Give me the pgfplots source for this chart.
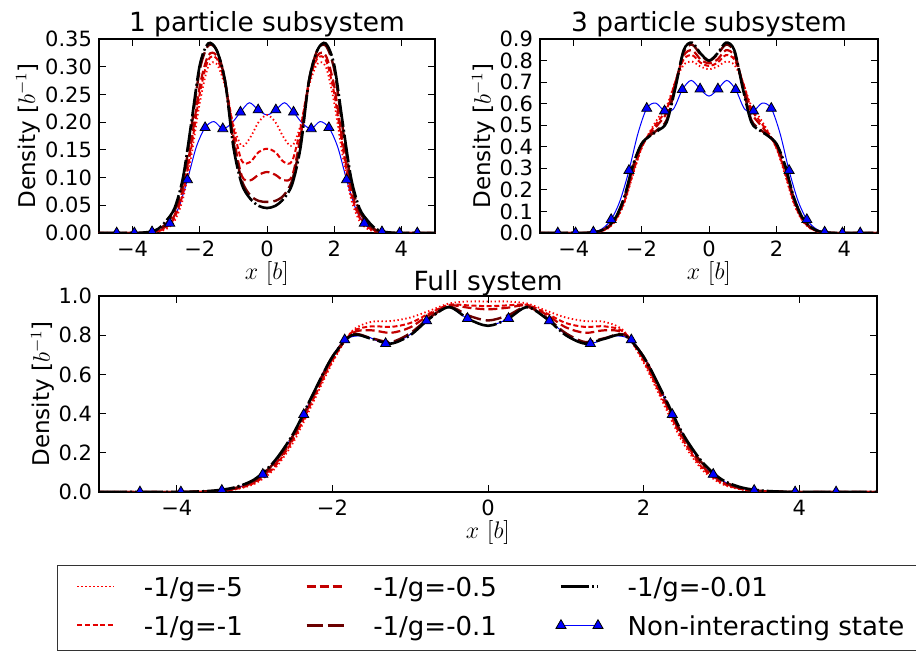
\documentclass[border=0pt]{standalone}
\usepackage{fontspec}
\setmainfont{DejaVu Sans}
\usepackage{pgfplots}
\usepackage{pgfplotstable}
\pgfplotsset{compat=1.18}
\definecolor{c5}{rgb}{1,0,0}
\definecolor{c1}{rgb}{0.9,0,0}
\definecolor{c05}{rgb}{0.76,0,0}
\definecolor{c01}{rgb}{0.42,0,0}

% columns: a=-5, b=-1, c=-0.5, d=-0.1, e=-0.01
\pgfplotstableread{
x a b c d e
-5.00 0 0 0 0 0
-4.75 0 0 0 0 0
-4.50 0 0 0 0 0
-4.25 0 0 0 0 0
-4.00 0 0 0 0 0
-3.75 0 0 0 0 0.0005
-3.50 0 0 0.001 0.001 0.002
-3.25 0.002 0.003 0.004 0.005 0.007
-3.00 0.007 0.010 0.012 0.017 0.022
-2.75 0.022 0.028 0.032 0.040 0.045
-2.50 0.062 0.072 0.080 0.092 0.100
-2.25 0.140 0.155 0.165 0.190 0.200
-2.00 0.235 0.252 0.265 0.295 0.303
-1.75 0.300 0.312 0.320 0.338 0.342
-1.50 0.305 0.315 0.320 0.330 0.330
-1.25 0.265 0.272 0.272 0.275 0.275
-1.00 0.195 0.190 0.175 0.165 0.155
-0.75 0.157 0.130 0.103 0.095 0.088
-0.50 0.172 0.128 0.095 0.068 0.062
-0.25 0.200 0.146 0.105 0.058 0.049
0.00 0.213 0.152 0.110 0.056 0.045
0.25 0.200 0.146 0.105 0.058 0.049
0.50 0.172 0.128 0.095 0.068 0.062
0.75 0.157 0.130 0.103 0.095 0.088
1.00 0.195 0.190 0.175 0.165 0.155
1.25 0.265 0.272 0.272 0.275 0.275
1.50 0.305 0.315 0.320 0.330 0.330
1.75 0.300 0.312 0.320 0.338 0.342
2.00 0.235 0.252 0.265 0.295 0.303
2.25 0.140 0.155 0.165 0.190 0.200
2.50 0.062 0.072 0.080 0.092 0.100
2.75 0.022 0.028 0.032 0.040 0.045
3.00 0.007 0.010 0.012 0.017 0.022
3.25 0.002 0.003 0.004 0.005 0.007
3.50 0 0 0.001 0.001 0.002
3.75 0 0 0 0 0.0005
4.00 0 0 0 0 0
4.25 0 0 0 0 0
4.50 0 0 0 0 0
4.75 0 0 0 0 0
5.00 0 0 0 0 0
}\Pone

\pgfplotstableread{
x a b c d e
-5.00 0 0 0 0 0
-4.75 0 0 0 0 0
-4.50 0 0 0 0 0
-4.25 0 0 0 0 0
-4.00 0 0 0 0 0
-3.75 0 0 0 0 0
-3.50 0.001 0.001 0.001 0.002 0.002
-3.25 0.006 0.006 0.007 0.008 0.008
-3.00 0.020 0.022 0.024 0.027 0.028
-2.75 0.060 0.064 0.067 0.072 0.075
-2.50 0.140 0.148 0.155 0.165 0.170
-2.25 0.270 0.280 0.290 0.308 0.315
-2.00 0.390 0.395 0.400 0.410 0.413
-1.75 0.470 0.465 0.460 0.452 0.450
-1.50 0.535 0.520 0.505 0.482 0.476
-1.25 0.590 0.575 0.560 0.525 0.515
-1.00 0.700 0.700 0.695 0.680 0.670
-0.75 0.780 0.805 0.822 0.840 0.848
-0.50 0.795 0.825 0.848 0.874 0.883
-0.25 0.772 0.790 0.805 0.828 0.833
0.00 0.760 0.775 0.787 0.798 0.800
0.25 0.772 0.790 0.805 0.828 0.833
0.50 0.795 0.825 0.848 0.874 0.883
0.75 0.780 0.805 0.822 0.840 0.848
1.00 0.700 0.700 0.695 0.680 0.670
1.25 0.590 0.575 0.560 0.525 0.515
1.50 0.535 0.520 0.505 0.482 0.476
1.75 0.470 0.465 0.460 0.452 0.450
2.00 0.390 0.395 0.400 0.410 0.413
2.25 0.270 0.280 0.290 0.308 0.315
2.50 0.140 0.148 0.155 0.165 0.170
2.75 0.060 0.064 0.067 0.072 0.075
3.00 0.020 0.022 0.024 0.027 0.028
3.25 0.006 0.006 0.007 0.008 0.008
3.50 0.001 0.001 0.001 0.002 0.002
3.75 0 0 0 0 0
4.00 0 0 0 0 0
4.25 0 0 0 0 0
4.50 0 0 0 0 0
4.75 0 0 0 0 0
5.00 0 0 0 0 0
}\Ptwo

\pgfplotstableread{
x a b c d e
-5.00 0 0 0 0 0
-4.75 0 0 0 0 0
-4.50 0 0 0 0 0
-4.25 0 0 0 0 0
-4.00 0 0 0 0 0
-3.75 0.001 0.001 0.001 0.002 0.002
-3.50 0.003 0.004 0.005 0.006 0.008
-3.25 0.013 0.015 0.017 0.020 0.024
-3.00 0.042 0.047 0.052 0.060 0.065
-2.75 0.115 0.125 0.135 0.148 0.155
-2.50 0.255 0.270 0.280 0.292 0.300
-2.25 0.455 0.470 0.480 0.495 0.500
-2.00 0.660 0.670 0.680 0.690 0.690
-1.75 0.820 0.815 0.810 0.803 0.800
-1.50 0.868 0.845 0.825 0.785 0.782
-1.25 0.872 0.842 0.812 0.765 0.757
-1.00 0.890 0.862 0.840 0.810 0.800
-0.75 0.925 0.912 0.905 0.890 0.885
-0.50 0.962 0.955 0.952 0.945 0.943
-0.25 0.972 0.952 0.940 0.900 0.882
0.00 0.972 0.948 0.932 0.875 0.848
0.25 0.972 0.952 0.940 0.900 0.882
0.50 0.962 0.955 0.952 0.945 0.943
0.75 0.925 0.912 0.905 0.890 0.885
1.00 0.890 0.862 0.840 0.810 0.800
1.25 0.872 0.842 0.812 0.765 0.757
1.50 0.868 0.845 0.825 0.785 0.782
1.75 0.820 0.815 0.810 0.803 0.800
2.00 0.660 0.670 0.680 0.690 0.690
2.25 0.455 0.470 0.480 0.495 0.500
2.50 0.255 0.270 0.280 0.292 0.300
2.75 0.115 0.125 0.135 0.148 0.155
3.00 0.042 0.047 0.052 0.060 0.065
3.25 0.013 0.015 0.017 0.020 0.024
3.50 0.003 0.004 0.005 0.006 0.008
3.75 0.001 0.001 0.001 0.002 0.002
4.00 0 0 0 0 0
4.25 0 0 0 0 0
4.50 0 0 0 0 0
4.75 0 0 0 0 0
5.00 0 0 0 0 0
}\Pthree

% non-interacting state, grid step 10/38; triangles on every second point
\pgfplotstableread{
x p q r
-4.7368 0 0 0
-4.4737 0 0 0
-4.2105 0 0 0
-3.9474 0 0 0
-3.6842 0.0005 0.001 0.002
-3.4211 0.002 0.004 0.008
-3.1579 0.006 0.020 0.030
-2.8947 0.0175 0.062 0.090
-2.6316 0.045 0.150 0.210
-2.3684 0.096 0.290 0.395
-2.1053 0.155 0.460 0.620
-1.8421 0.190 0.578 0.776
-1.5789 0.201 0.603 0.795
-1.3158 0.188 0.566 0.757
-1.0526 0.198 0.575 0.790
-0.7895 0.218 0.665 0.873
-0.5263 0.235 0.708 0.945
-0.2632 0.222 0.668 0.885
0.0000 0.213 0.635 0.848
0.2632 0.222 0.668 0.885
0.5263 0.235 0.708 0.945
0.7895 0.218 0.665 0.873
1.0526 0.198 0.575 0.790
1.3158 0.188 0.566 0.757
1.5789 0.201 0.603 0.795
1.8421 0.190 0.578 0.776
2.1053 0.155 0.460 0.620
2.3684 0.096 0.290 0.395
2.6316 0.045 0.150 0.210
2.8947 0.0175 0.062 0.090
3.1579 0.006 0.020 0.030
3.4211 0.002 0.004 0.008
3.6842 0.0005 0.001 0.002
3.9474 0 0 0
4.2105 0 0 0
4.4737 0 0 0
4.7368 0 0 0
}\NI

\pgfplotsset{
  dens/.style={
    scale only axis,
    xmin=-5, xmax=5, ymin=0,
    xtick={-4,-2,0,2,4},
    xticklabels={−4,−2,0,2,4},
    tick align=inside,
    major tick length=3.3pt,
    every tick/.style={black, line width=0.5pt},
    axis line style={line width=0.8pt},
    tick label style={font=\fontsize{10.5}{12}\selectfont},
    /pgf/number format/assume math mode=true,
    xticklabel style={yshift=-0.5pt},
    ylabel style={font=\fontsize{11.5}{14}\selectfont},
    title style={font=\fontsize{13.2}{16}\selectfont, at={(0.5,1)}, anchor=base, yshift=-2.5pt},
    xlabel={$x\ [b]$},
    xlabel style={font=\fontsize{12}{14}\selectfont, at={(0.5,0)}, anchor=base, yshift=-23.5pt},
    ylabel={Density [$b^{-1}$]},
    clip marker paths=true,
    legend image code/.code={\draw[##1] (0pt,0.95pt) -- (18.5pt,0.95pt);},
  },
  s5/.style={c5, line width=0.9pt, dash pattern=on 0.7pt off 1.3pt, smooth},
  s1/.style={c1, line width=1pt, dash pattern=on 2.5pt off 1.3pt, smooth},
  s05/.style={c05, line width=1.1pt, dash pattern=on 4.5pt off 2pt, smooth},
  s01/.style={c01, line width=1.2pt, dash pattern=on 8pt off 2.5pt, smooth},
  s001/.style={black, line width=1.3pt, dash pattern=on 14pt off 1.5pt on 1pt off 1.5pt, smooth},
  sNI/.style={blue, line width=0.5pt, smooth},
  sNImk/.style={only marks, mark=triangle*, mark repeat=2, mark phase=2, mark size=2.9pt, mark options={fill=blue, draw=black, line width=0.4pt, solid}},
  sNIleg/.style={blue, line width=0.5pt, mark=triangle*, mark size=2.9pt, mark options={fill=blue, draw=black, line width=0.4pt, solid},
    legend image code/.code={\path[draw=none] (0pt,0pt) -- (18.5pt,0pt);
      \begin{pgfinterruptboundingbox}\draw[##1] plot coordinates {(0pt,0.95pt) (18.5pt,0.95pt)};\end{pgfinterruptboundingbox}}},
}

\begin{document}
\begin{tikzpicture}
\begin{axis}[dens, at={(49.5pt,209.5pt)}, anchor=south west, width=168pt, height=97pt,
  ymax=0.35, ytick={0,0.05,0.1,0.15,0.2,0.25,0.3,0.35},
  yticklabel style={/pgf/number format/.cd, fixed, fixed zerofill, precision=2},
  title={1 particle subsystem},
  ylabel style={at={(-0.19,0.5)}, anchor=base}]
\addplot[sNI] table[x=x,y=p] {\NI};
\addplot[s5] table[x=x,y=a] {\Pone};
\addplot[s1] table[x=x,y=b] {\Pone};
\addplot[s05] table[x=x,y=c] {\Pone};
\addplot[s01] table[x=x,y=d] {\Pone};
\addplot[s001] table[x=x,y=e] {\Pone};
\addplot[sNImk] table[x=x,y=p] {\NI};
\end{axis}

\begin{axis}[dens, at={(270pt,209.5pt)}, anchor=south west, width=169pt, height=97pt,
  ymax=0.9, ytick={0,0.1,0.2,0.3,0.4,0.5,0.6,0.7,0.8,0.9},
  yticklabel style={/pgf/number format/.cd, fixed, fixed zerofill, precision=1},
  title={3 particle subsystem},
  ylabel style={at={(-0.145,0.5)}, anchor=base}]
\addplot[sNI] table[x=x,y=q] {\NI};
\addplot[s5] table[x=x,y=a] {\Ptwo};
\addplot[s1] table[x=x,y=b] {\Ptwo};
\addplot[s05] table[x=x,y=c] {\Ptwo};
\addplot[s01] table[x=x,y=d] {\Ptwo};
\addplot[s001] table[x=x,y=e] {\Ptwo};
\addplot[sNImk] table[x=x,y=q] {\NI};
\end{axis}

\begin{axis}[dens, at={(49.5pt,80pt)}, anchor=south west, width=389pt, height=98pt,
  ymax=1, ytick={0,0.2,0.4,0.6,0.8,1},
  yticklabel style={/pgf/number format/.cd, fixed, fixed zerofill, precision=1},
  title={Full system}, title style={yshift=-1pt},
  ylabel style={at={(-0.063,0.5)}, anchor=base},
  legend columns=3, legend cell align=left,
  legend style={at={(-0.0536,-0.3709)}, anchor=north west, draw=black!80, line width=0.5pt,
    inner xsep=9.35pt, inner ysep=5.35pt, font=\fontsize{13}{15}\selectfont,
    /tikz/row sep=7pt, /tikz/column sep=0pt,
    /tikz/every odd column/.style={column sep=14.2pt},
    nodes={inner sep=0pt, text height=10.3pt, text depth=2.2pt}}]
\addplot[sNI, forget plot] table[x=x,y=r] {\NI};
\addplot[s5, forget plot] table[x=x,y=a] {\Pthree};
\addplot[s1, forget plot] table[x=x,y=b] {\Pthree};
\addplot[s05, forget plot] table[x=x,y=c] {\Pthree};
\addplot[s01, forget plot] table[x=x,y=d] {\Pthree};
\addplot[s001, forget plot] table[x=x,y=e] {\Pthree};
\addplot[sNImk, forget plot] table[x=x,y=r] {\NI};
\addlegendimage{s5}
\addlegendentry{\makebox[80.8pt][l]{-1/g=-5}}
\addlegendimage{s05}
\addlegendentry{\makebox[93.2pt][l]{-1/g=-0.5}}
\addlegendimage{s001}
\addlegendentry{\makebox[160pt][l]{-1/g=-0.01}}
\addlegendimage{s1}
\addlegendentry{\makebox[80.8pt][l]{-1/g=-1}}
\addlegendimage{s01}
\addlegendentry{\makebox[93.2pt][l]{-1/g=-0.1}}
\addlegendimage{sNIleg}
\addlegendentry{\makebox[160pt][l]{Non-interacting state}}
\end{axis}
\pgfresetboundingbox
\path (0pt,0pt) rectangle (458pt,326pt);
\end{tikzpicture}
\end{document}
